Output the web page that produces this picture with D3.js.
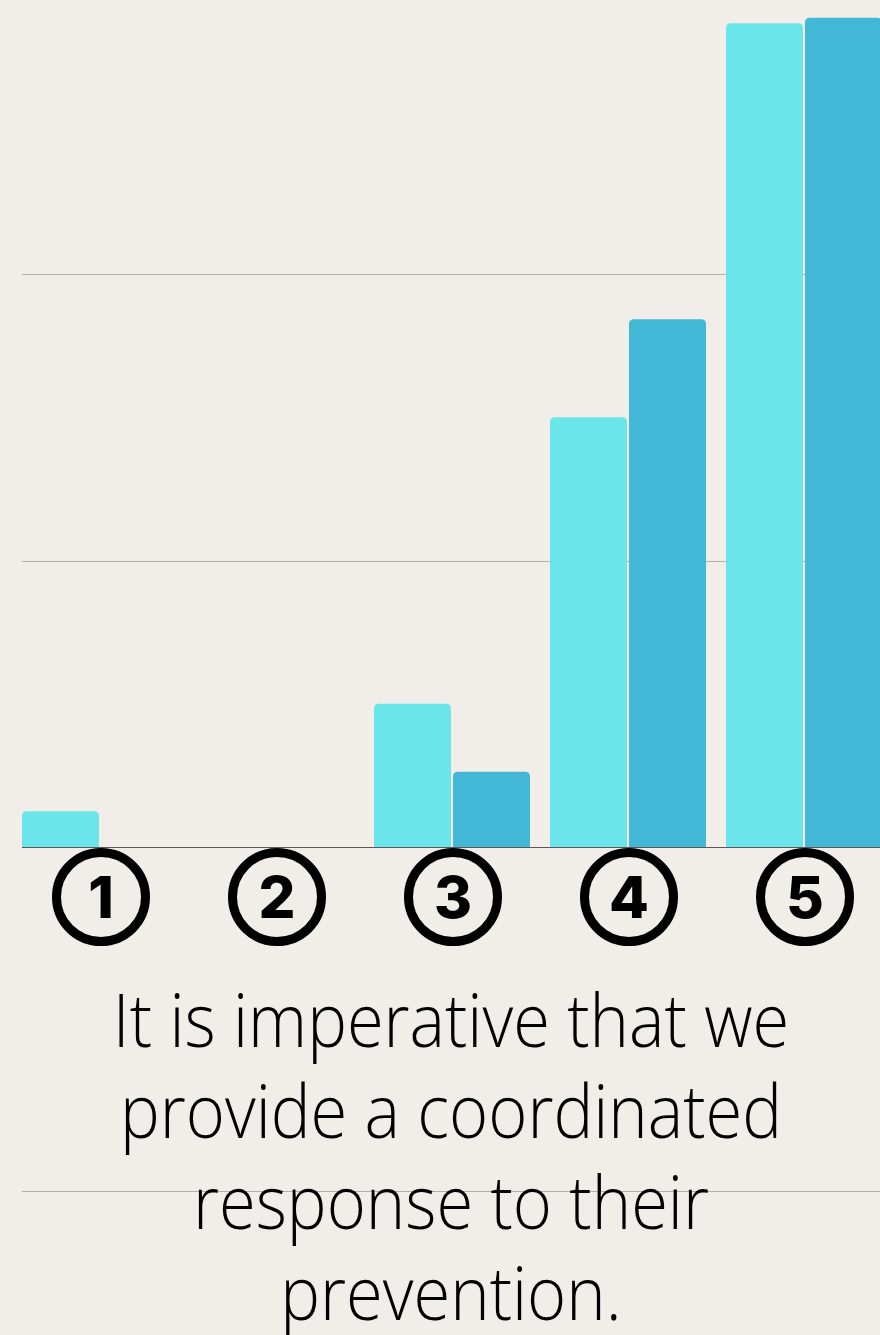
<!DOCTYPE html>
<html><head><meta charset="utf-8">
<script src="https://cdn.jsdelivr.net/npm/d3@7"></script>
<style>
html,body{margin:0;padding:0;background:#f1eee9;overflow:hidden;}
svg{display:block;}
</style></head>
<body>
<svg id="c" width="880" height="1335"></svg>
<script>
const categories = ["1","2","3","4","5"];
const seriesNames = ["A","B"];
const seriesA = [2.5, 0, 10, 30, 57.5];
const seriesB = [0, 0, 5.26, 36.84, 57.89];
const yTicks = [0, 20, 40, 60];
const captionLines = ["It is imperative that we","provide a coordinated","response to their","prevention."];
const colors = ["#6ae5e9","#42b7d6"];

const svg = d3.select("#c");
svg.append("rect").attr("width",880).attr("height",1335).attr("fill","#f1eee9");

const x0 = d3.scaleBand().domain(categories).range([12, 12+176*5]).paddingInner(20/176).paddingOuter(0.5*20/176);
const x1 = d3.scaleBand().domain(seriesNames).range([0, x0.bandwidth()]).paddingInner(2/78);
const y = d3.scaleLinear().domain([0, 60]).range([847, 847-60*14.325]);

svg.append("g").selectAll("line").data(yTicks.filter(d=>d>0)).join("line")
  .attr("x1",22).attr("x2",880).attr("y1",d=>Math.round(y(d))+0.5).attr("y2",d=>Math.round(y(d))+0.5)
  .attr("stroke","#b3b0ab").attr("stroke-width",1);

function topRounded(xp, yp, w, h, r){
  if (h<=0) return "";
  r = Math.min(r, h, w/2);
  return `M${xp},${yp+h}V${yp+r}Q${xp},${yp} ${xp+r},${yp}H${xp+w-r}Q${xp+w},${yp} ${xp+w},${yp+r}V${yp+h}Z`;
}
const data = categories.map((c,i)=>({c, vals:[{k:"A",v:seriesA[i]},{k:"B",v:seriesB[i]}]}));
const g = svg.append("g");
data.forEach(d=>{
  d.vals.forEach((s,j)=>{
    const xp = x0(d.c)+x1(s.k), w = x1.bandwidth();
    const yp = y(s.v), h = y(0)-y(s.v);
    if (h>0) g.append("path").attr("d", topRounded(xp, yp, w, h, 5)).attr("fill", colors[j]);
  });
});

svg.append("line").attr("x1",22).attr("x2",880).attr("y1",y(0)+0.5).attr("y2",y(0)+0.5)
  .attr("stroke","#5a5856").attr("stroke-width",1);

const lab = svg.append("g").selectAll("g").data(categories).join("g")
  .attr("transform", d=>`translate(${x0(d)+x0.bandwidth()/2+1},897)`);
lab.append("circle").attr("r",44.5).attr("fill","none").attr("stroke","#000").attr("stroke-width",9);
lab.append("text").text(d=>d).attr("text-anchor","middle").attr("y",21)
  .attr("font-family","Inter, 'DejaVu Sans', sans-serif").attr("font-weight",800).attr("font-size",58).attr("fill","#000");

svg.append("line").attr("x1",22).attr("x2",880).attr("y1",1191.5).attr("y2",1191.5)
  .attr("stroke","#b3b0ab").attr("stroke-width",1);

svg.append("g").attr("transform","translate(451,0) scale(0.903,1)")
  .selectAll("text").data(captionLines).join("text")
  .attr("x",0).attr("y",(d,i)=>1047+i*91)
  .attr("text-anchor","middle")
  .attr("font-family","'Open Sans', sans-serif").attr("font-weight",300).attr("font-size",74)
  .attr("fill","#000").text(d=>d);
</script>
</body></html>
